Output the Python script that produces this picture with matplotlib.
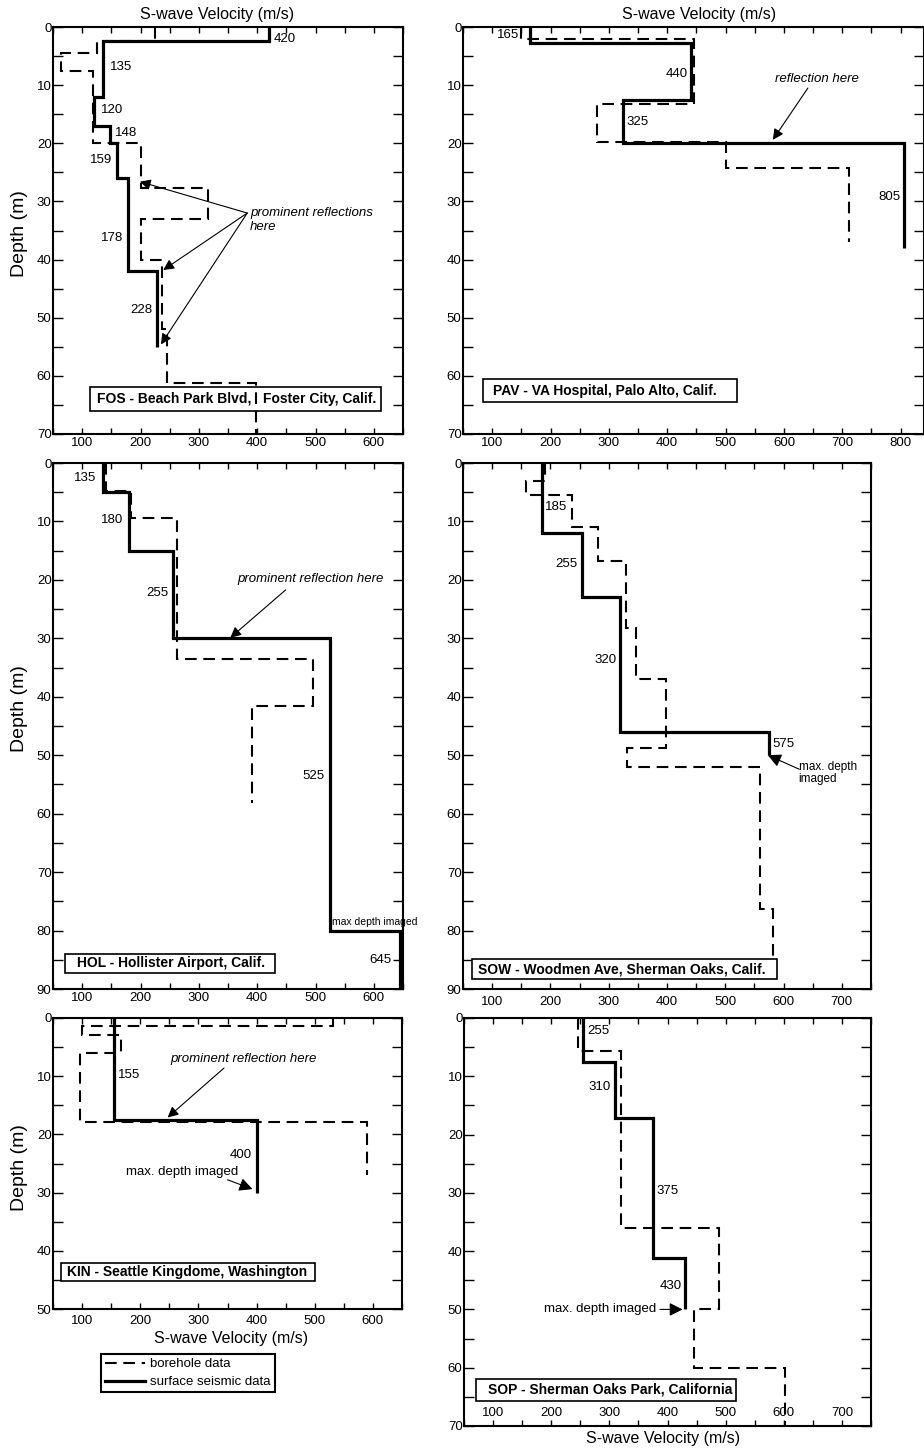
import matplotlib
matplotlib.use("Agg")
import matplotlib.pyplot as plt
from matplotlib.ticker import MultipleLocator
from matplotlib.patches import Rectangle
from matplotlib.lines import Line2D

plt.rcParams['font.family'] = ['Liberation Sans', 'DejaVu Sans']

# ---------------------------------------------------------------- data
# Each profile: layer velocities (m/s) and layer boundary depths (m)

# FOS - Beach Park Blvd, Foster City
fos_seis_vel = [420, 135, 120, 148, 159, 178, 228]
fos_seis_dep = [0, 2.4, 12, 17, 20, 26, 42, 55]
fos_bore_vel = [225, 125, 64, 119, 200, 315, 200, 236, 245, 398]
fos_bore_dep = [0, 2.4, 4.5, 7.5, 20, 27.7, 33, 40, 52, 61.2, 70]

# PAV - VA Hospital, Palo Alto
pav_seis_vel = [165, 440, 325, 805]
pav_seis_dep = [0, 2.8, 12.6, 20, 38]
pav_bore_vel = [150, 445, 280, 500, 711]
pav_bore_dep = [0, 2.1, 13.3, 19.7, 24.2, 37]

# HOL - Hollister Airport
hol_seis_vel = [135, 180, 255, 525, 645]
hol_seis_dep = [0, 5, 15, 30, 80, 90]
hol_bore_vel = [140, 183, 262, 496, 391]
hol_bore_dep = [0, 4.8, 9.4, 33.6, 41.6, 58.1]

# SOW - Woodmen Ave, Sherman Oaks
sow_seis_vel = [185, 255, 320, 575]
sow_seis_dep = [0, 12, 23, 46, 50]
sow_bore_vel = [190, 158, 237, 282, 329, 347, 399, 331, 560, 582]
sow_bore_dep = [0, 3, 5.5, 10.9, 16.7, 28.3, 37, 48.7, 52, 76.3, 84.3]

# KIN - Seattle Kingdome
kin_seis_vel = [155, 400]
kin_seis_dep = [0, 17.5, 30]
kin_bore_vel = [531, 100, 167, 96, 590]
kin_bore_dep = [0, 1.3, 3, 6, 17.8, 27]

# SOP - Sherman Oaks Park
sop_seis_vel = [255, 310, 375, 430]
sop_seis_dep = [0, 7.5, 17.2, 41.2, 50]
sop_bore_vel = [246, 320, 489, 445, 602]
sop_bore_dep = [0, 5.6, 36, 50, 60, 70]

# ---------------------------------------------------------------- figure
W, H = 924, 1449
fig = plt.figure(figsize=(W / 100, H / 100), dpi=100)

BORE_STYLE = dict(color='black', lw=1.5, linestyle=(0, (5.6, 3.2)))
SEIS_STYLE = dict(color='black', lw=2.3)


def fx(x):
    return x / W


def fy(y):
    return 1 - y / H


def make_axes(l, t, r, b, xmax, ymax, xpad):
    ax = fig.add_axes([fx(l), fy(b), (r - l) / W, (b - t) / H])
    ax.set_xlim(50, xmax)
    ax.set_ylim(ymax, 0)
    ax.xaxis.set_major_locator(MultipleLocator(100))
    ax.xaxis.set_minor_locator(MultipleLocator(50))
    ax.yaxis.set_major_locator(MultipleLocator(10))
    ax.yaxis.set_minor_locator(MultipleLocator(5))
    ax.tick_params(which='both', direction='in', top=True, right=True,
                   width=1.0, labelsize=9.5, colors='black')
    ax.tick_params(axis='x', which='both', length=4.5, pad=xpad)
    ax.tick_params(axis='y', which='both', length=7, pad=1)
    for s in ax.spines.values():
        s.set_linewidth(1.5)
    return ax, (l, t, r, b)


def draw_profiles(ax, seis_v, seis_d, bore_v, bore_d):
    ax.stairs(bore_v, bore_d, orientation='horizontal', baseline=None,
              zorder=3, **BORE_STYLE)
    ax.stairs(seis_v, seis_d, orientation='horizontal', baseline=None,
              zorder=4, **SEIS_STYLE)


def value_labels(ax, vels, depths, sides, gaps):
    for v, d, s, g in zip(vels, depths, sides, gaps):
        ax.annotate(str(v), xy=(v, d), xytext=(s * g, 0),
                    textcoords='offset points', va='center',
                    ha='left' if s > 0 else 'right', fontsize=9.5, zorder=5)


def site_box(ax, box, rect, text_left, text):
    l, t, r, b = box
    x0, y0, x1, y1 = rect
    ax.add_patch(Rectangle(((x0 - l) / (r - l), (b - y1) / (b - t)),
                           (x1 - x0) / (r - l), (y1 - y0) / (b - t),
                           transform=ax.transAxes, facecolor='white',
                           edgecolor='black', lw=1.2, zorder=2,
                           clip_on=False))
    ax.text((text_left - l) / (r - l), (b - (y0 + y1) / 2) / (b - t), text,
            transform=ax.transAxes, ha='left', va='center',
            fontsize=10, fontweight='bold', zorder=6)


def arrow(ax, tail, head, scale=16):
    ax.annotate('', xy=head, xytext=tail,
                arrowprops=dict(arrowstyle='-|>', color='black', lw=0.8,
                                mutation_scale=scale, shrinkA=0, shrinkB=0),
                zorder=6)


# ---- FOS
ax, box = make_axes(53, 27, 403, 434, 650, 70, 2)
draw_profiles(ax, fos_seis_vel, fos_seis_dep, fos_bore_vel, fos_bore_dep)
value_labels(ax, fos_seis_vel, [2.0, 6.8, 14.3, 18.2, 22.9, 36.3, 48.7],
             [1, 1, 1, 1, -1, -1, -1], [3.6, 5.3, 5, 3.6, 3, 3, 3])
ax.text(388, 33.2, 'prominent reflections\nhere', style='italic',
        fontsize=9.5, ha='left', va='center', linespacing=1.15)
for head in [(199, 26.6), (239, 41.8), (235, 54.6)]:
    arrow(ax, (383, 32.0), head)
site_box(ax, box, (90, 387, 381, 411), 97,
         'FOS - Beach Park Blvd,   Foster City, Calif.')

# ---- PAV
ax, box = make_axes(463, 27, 924, 434, 840, 70, 2)
draw_profiles(ax, pav_seis_vel, pav_seis_dep, pav_bore_vel, pav_bore_dep)
value_labels(ax, pav_seis_vel, [1.4, 8.1, 16.4, 29.2],
             [-1, -1, 1, -1], [7.7, 2, 2.5, 2])
ax.text(657, 8.9, 'reflection here', style='italic', fontsize=9.5,
        ha='center', va='center')
arrow(ax, (641, 10.5), (581, 19.4))
site_box(ax, box, (483, 379, 737, 402), 493,
         'PAV - VA Hospital, Palo Alto, Calif.')

# ---- HOL
ax, box = make_axes(53, 463, 403, 989, 650, 90, 2)
draw_profiles(ax, hol_seis_vel, hol_seis_dep, hol_bore_vel, hol_bore_dep)
value_labels(ax, hol_seis_vel, [2.5, 9.7, 22.3, 53.5, 85],
             [-1, -1, -1, -1, -1], [4.3, 4, 3, 4.3, 6])
ax.text(491, 19.9, 'prominent reflection here', style='italic',
        fontsize=9.5, ha='center', va='center')
arrow(ax, (449, 21.7), (354, 29.9))
ax.text(529, 78.5, 'max depth imaged', fontsize=7.5, ha='left',
        va='center', clip_on=False)
site_box(ax, box, (65, 954, 275, 973), 77, 'HOL - Hollister Airport, Calif.')

# ---- SOW
ax, box = make_axes(463, 463, 871, 989, 750, 90, 5)
draw_profiles(ax, sow_seis_vel, sow_seis_dep, sow_bore_vel, sow_bore_dep)
value_labels(ax, sow_seis_vel, [7.6, 17.2, 33.7, 48],
             [1, -1, -1, 1], [2.4, 3.5, 2.7, 2.7])
ax.text(626, 53.0, 'max. depth\nimaged', fontsize=8.5, ha='left',
        va='center', linespacing=1.05)
arrow(ax, (627, 52.4), (573, 50), scale=20)
site_box(ax, box, (472, 959, 777, 979), 478,
         'SOW - Woodmen Ave, Sherman Oaks, Calif.')

# ---- KIN
ax, box = make_axes(53, 1018, 402, 1309, 650, 50, 4)
draw_profiles(ax, kin_seis_vel, kin_seis_dep, kin_bore_vel, kin_bore_dep)
value_labels(ax, kin_seis_vel, [9.8, 23.5], [1, -1], [3, 3.4])
ax.text(378, 7.0, 'prominent reflection here', style='italic',
        fontsize=9.5, ha='center', va='center')
arrow(ax, (344, 8.6), (247, 17.1))
ax.text(369, 26.4, 'max. depth imaged', fontsize=9.5, ha='right',
        va='center')
arrow(ax, (350, 27.8), (393, 29.4), scale=20)
site_box(ax, box, (61, 1263, 315, 1281), 67,
         'KIN - Seattle Kingdome, Washington')

# ---- SOP
ax, box = make_axes(464, 1018, 871, 1426, 750, 70, -14)
draw_profiles(ax, sop_seis_vel, sop_seis_dep, sop_bore_vel, sop_bore_dep)
value_labels(ax, sop_seis_vel, [2.3, 11.8, 29.7, 46],
             [1, -1, 1, -1], [2.8, 3.3, 2.3, 2.3])
ax.text(380, 50, 'max. depth imaged', fontsize=9.5, ha='right',
        va='center')
arrow(ax, (387, 50), (426, 50), scale=20)
site_box(ax, box, (476, 1379, 736, 1401), 488,
         'SOP - Sherman Oaks Park, California')

# ---------------------------------------------------------------- labels
for x, y in [(217, 15), (699, 15), (231, 1338), (663, 1439)]:
    fig.text(fx(x), fy(y), 'S-wave Velocity (m/s)', ha='center',
             va='center', fontsize=11.5)
for y in [234, 709, 1168]:
    fig.text(fx(19), fy(y), 'Depth (m)', rotation=90, ha='center',
             va='center', fontsize=14)

handles = [Line2D([], [], **BORE_STYLE), Line2D([], [], **SEIS_STYLE)]
leg = fig.legend(handles, ['borehole data', 'surface seismic data'],
                 loc='upper left', bbox_to_anchor=(fx(101), fy(1354)),
                 borderaxespad=0, frameon=True, fancybox=False,
                 edgecolor='black', framealpha=1, fontsize=9.5,
                 handlelength=3, handletextpad=0.45, borderpad=0.3,
                 labelspacing=0.45)
leg.get_frame().set_linewidth(1.5)

fig.savefig('out.png', dpi=100)
